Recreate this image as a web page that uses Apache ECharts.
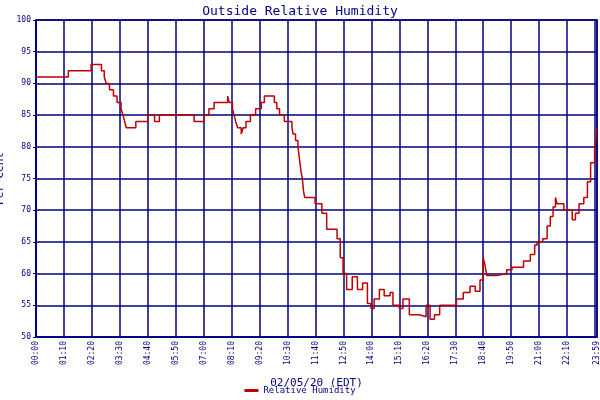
<!DOCTYPE html>
<html><head><meta charset="utf-8">
<script src="https://cdn.jsdelivr.net/npm/echarts@6/dist/echarts.min.js"></script>
<style>html,body{margin:0;padding:0;background:#fff}#c{width:600px;height:400px}</style>
</head><body><div id="c"></div>
<script>
const minutes = [0,81,138,164,171,176,184,194,203,213,218,222,226,250,280,297,309,396,421,433,446,480,484,492,496,500,505,514,519,526,537,550,564,572,597,603,610,622,641,644,650,656,660,664,667,670,673,682,699,716,728,745,754,762,769,778,792,805,818,830,839,847,860,872,887,894,910,919,935,960,977,987,998,1011,1036,1053,1070,1087,1100,1112,1120,1124,1129,1154,1179,1192,1213,1221,1238,1249,1255,1269,1280,1288,1295,1301,1305,1322,1334,1343,1351,1360,1372,1381,1389,1399,1402,1405];
const humidity = [91,92,93,92,91,90,89,88,87,86,85,84,83,84,85,84,85,84,85,86,87,88,87,86,85,84,83,82,83,84,85,86,87,88,87,86,85,84,83,82,81,80,78,76,75,73,72,72,71,69.5,67,67,65.5,62.5,60,57.5,59.5,57.5,58.5,55.3,54.5,56,57.5,56.5,57,55,54.5,56,53.5,53.2,55,52.8,53.5,55,55,56,57,58,57.2,59,62.5,61.5,59.7,60,60.6,61,61,62,63,64.5,65,65.5,67.5,69,70.5,72,71,70,70,68.5,69.5,71,72,74.5,77.5,79.5,81,83];
const seriesName = 'Relative Humidity';
const xMax = 1405;
const yTicks = [50,100,5];
const navy = '#00007f';
const font = 'DejaVu Sans Mono';
function fmt(v){ if(v===xMax) return '23:59'; const h=Math.floor(v/60), m=v%60; return String(h).padStart(2,'0')+':'+String(m).padStart(2,'0'); }
const chart = echarts.init(document.getElementById('c'));
chart.setOption({
  animation:false,
  title:{text:'Outside Relative Humidity',left:'center',top:0,textStyle:{color:navy,fontFamily:font,fontSize:13,fontWeight:'normal'}},
  grid:{left:36,right:3,top:20,bottom:63,show:true,borderColor:navy,borderWidth:1.5,outerBoundsMode:'none',containLabel:false},
  legend:{bottom:0,left:'center',itemWidth:14,itemHeight:3,icon:'rect',textStyle:{color:navy,fontFamily:font,fontSize:9},data:[seriesName]},
  xAxis:{type:'value',min:0,max:xMax,interval:70,name:'02/05/20 (EDT)',nameLocation:'middle',nameGap:41,
    nameTextStyle:{color:navy,fontFamily:font,fontSize:11},
    axisLine:{lineStyle:{color:navy,width:1.5}},axisTick:{show:false},
    axisLabel:{rotate:90,color:navy,fontFamily:font,fontSize:8,formatter:fmt,showMaxLabel:true,margin:4},
    splitLine:{show:true,lineStyle:{color:navy,width:1.5}}},
  yAxis:{type:'value',min:yTicks[0],max:yTicks[1],interval:yTicks[2],name:'Per Cent',nameLocation:'middle',nameGap:24,
    nameTextStyle:{color:navy,fontFamily:font,fontSize:11},
    axisLine:{lineStyle:{color:navy,width:1.5}},axisTick:{show:true,length:3,lineStyle:{color:navy}},
    axisLabel:{color:navy,fontFamily:font,fontSize:8,margin:5},
    splitLine:{show:true,lineStyle:{color:navy,width:1.5}}},
  series:[{name:seriesName,type:'line',step:'end',symbol:'none',data:minutes.map((m,i)=>[m,humidity[i]]),
    lineStyle:{color:'#c00000',width:1.5},itemStyle:{color:'#c00000'}}]
});
</script></body></html>
